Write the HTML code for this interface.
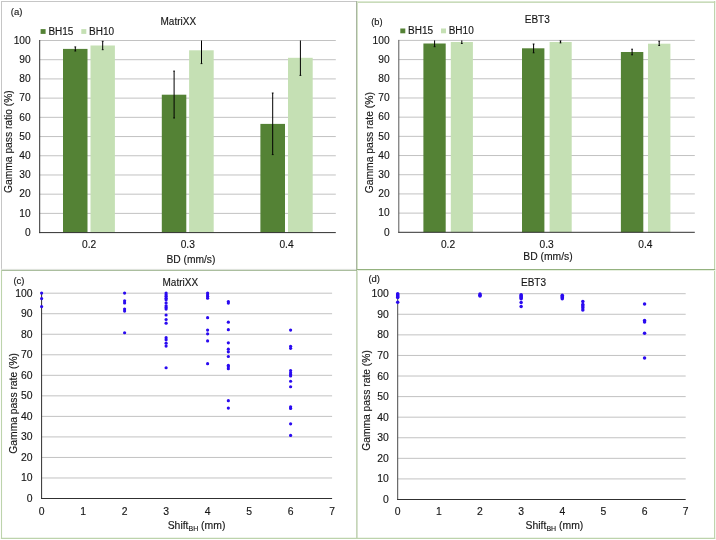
<!DOCTYPE html>
<html lang="en"><head><meta charset="utf-8"><title>Gamma pass rate figure</title>
<style>html,body{margin:0;padding:0;background:#fff;}body{width:716px;height:540px;overflow:hidden;}svg{display:block;}text{font-family:"Liberation Sans", sans-serif;fill:#161616;stroke:#161616;stroke-width:0.14px;}</style></head><body>
<svg width="716" height="540" viewBox="0 0 716 540">
<rect x="0" y="0" width="716" height="540" fill="#ffffff"/>
<line x1="1" x2="357" y1="1.5" y2="1.5" stroke="#c6c6c6" stroke-width="1"/>
<line x1="1.5" x2="1.5" y1="1" y2="270" stroke="#c6c6c6" stroke-width="1"/>
<line x1="1" x2="357" y1="269.3" y2="269.3" stroke="#ededed" stroke-width="1"/>
<line x1="357" x2="715.2" y1="1.5" y2="1.5" stroke="#dce8d2" stroke-width="1"/>
<line x1="357" x2="715.2" y1="2.5" y2="2.5" stroke="#c9dbba" stroke-width="1"/>
<line x1="714.6" x2="714.6" y1="1" y2="539" stroke="#bfd4ad" stroke-width="1.2"/>
<line x1="356.5" x2="356.5" y1="1" y2="270" stroke="#a9b5a1" stroke-width="1"/>
<line x1="357.5" x2="357.5" y1="1" y2="270" stroke="#d5e4c8" stroke-width="1"/>
<line x1="356.9" x2="356.9" y1="270" y2="539" stroke="#a6bf93" stroke-width="1.1"/>
<line x1="1" x2="357" y1="270.3" y2="270.3" stroke="#97ae88" stroke-width="1"/>
<line x1="357" x2="715.2" y1="269.5" y2="269.5" stroke="#94b27f" stroke-width="1"/>
<line x1="357" x2="715.2" y1="270.5" y2="270.5" stroke="#e6efdf" stroke-width="1"/>
<line x1="0.9" x2="715.2" y1="538.4" y2="538.4" stroke="#bdd3ac" stroke-width="1.1"/>
<line x1="1.5" x2="1.5" y1="270" y2="539" stroke="#bdd3ac" stroke-width="1.1"/>
<line x1="39.70" x2="335.80" y1="40.50" y2="40.50" stroke="#C2C2C2" stroke-width="1"/>
<line x1="39.70" x2="335.80" y1="59.71" y2="59.71" stroke="#C2C2C2" stroke-width="1"/>
<line x1="39.70" x2="335.80" y1="78.92" y2="78.92" stroke="#C2C2C2" stroke-width="1"/>
<line x1="39.70" x2="335.80" y1="98.13" y2="98.13" stroke="#C2C2C2" stroke-width="1"/>
<line x1="39.70" x2="335.80" y1="117.34" y2="117.34" stroke="#C2C2C2" stroke-width="1"/>
<line x1="39.70" x2="335.80" y1="136.55" y2="136.55" stroke="#C2C2C2" stroke-width="1"/>
<line x1="39.70" x2="335.80" y1="155.76" y2="155.76" stroke="#C2C2C2" stroke-width="1"/>
<line x1="39.70" x2="335.80" y1="174.97" y2="174.97" stroke="#C2C2C2" stroke-width="1"/>
<line x1="39.70" x2="335.80" y1="194.18" y2="194.18" stroke="#C2C2C2" stroke-width="1"/>
<line x1="39.70" x2="335.80" y1="213.39" y2="213.39" stroke="#C2C2C2" stroke-width="1"/>
<rect x="63.00" y="48.90" width="24.50" height="183.70" fill="#548235"/>
<rect x="90.50" y="45.50" width="24.40" height="187.10" fill="#C5E0B4"/>
<rect x="161.80" y="94.70" width="24.50" height="137.90" fill="#548235"/>
<rect x="189.10" y="50.30" width="24.60" height="182.30" fill="#C5E0B4"/>
<rect x="260.40" y="123.90" width="24.60" height="108.70" fill="#548235"/>
<rect x="288.00" y="57.80" width="24.70" height="174.80" fill="#C5E0B4"/>
<line x1="39.70" x2="39.70" y1="40.00" y2="233.10" stroke="#303030" stroke-width="1"/>
<line x1="39.20" x2="335.80" y1="232.60" y2="232.60" stroke="#303030" stroke-width="1"/>
<line x1="75.30" x2="75.30" y1="46.90" y2="51.00" stroke="#000" stroke-width="1"/>
<line x1="74.40" x2="76.20" y1="46.90" y2="46.90" stroke="#000" stroke-width="0.9"/>
<line x1="74.40" x2="76.20" y1="51.00" y2="51.00" stroke="#000" stroke-width="0.9"/>
<line x1="102.70" x2="102.70" y1="41.30" y2="49.70" stroke="#000" stroke-width="1"/>
<line x1="101.80" x2="103.60" y1="41.30" y2="41.30" stroke="#000" stroke-width="0.9"/>
<line x1="101.80" x2="103.60" y1="49.70" y2="49.70" stroke="#000" stroke-width="0.9"/>
<line x1="174.10" x2="174.10" y1="71.10" y2="118.00" stroke="#000" stroke-width="1"/>
<line x1="173.20" x2="175.00" y1="71.10" y2="71.10" stroke="#000" stroke-width="0.9"/>
<line x1="173.20" x2="175.00" y1="118.00" y2="118.00" stroke="#000" stroke-width="0.9"/>
<line x1="201.50" x2="201.50" y1="40.50" y2="63.60" stroke="#000" stroke-width="1"/>
<line x1="200.60" x2="202.40" y1="63.60" y2="63.60" stroke="#000" stroke-width="0.9"/>
<line x1="272.70" x2="272.70" y1="93.00" y2="154.60" stroke="#000" stroke-width="1"/>
<line x1="271.80" x2="273.60" y1="93.00" y2="93.00" stroke="#000" stroke-width="0.9"/>
<line x1="271.80" x2="273.60" y1="154.60" y2="154.60" stroke="#000" stroke-width="0.9"/>
<line x1="300.40" x2="300.40" y1="40.50" y2="75.40" stroke="#000" stroke-width="1"/>
<line x1="299.50" x2="301.30" y1="75.40" y2="75.40" stroke="#000" stroke-width="0.9"/>
<text x="30.70" y="43.80" font-size="10.2" text-anchor="end">100</text>
<text x="30.70" y="63.01" font-size="10.2" text-anchor="end">90</text>
<text x="30.70" y="82.22" font-size="10.2" text-anchor="end">80</text>
<text x="30.70" y="101.43" font-size="10.2" text-anchor="end">70</text>
<text x="30.70" y="120.64" font-size="10.2" text-anchor="end">60</text>
<text x="30.70" y="139.85" font-size="10.2" text-anchor="end">50</text>
<text x="30.70" y="159.06" font-size="10.2" text-anchor="end">40</text>
<text x="30.70" y="178.27" font-size="10.2" text-anchor="end">30</text>
<text x="30.70" y="197.48" font-size="10.2" text-anchor="end">20</text>
<text x="30.70" y="216.69" font-size="10.2" text-anchor="end">10</text>
<text x="30.70" y="235.90" font-size="10.2" text-anchor="end">0</text>
<text x="89.10" y="247.80" font-size="10.2" text-anchor="middle">0.2</text>
<text x="187.80" y="247.80" font-size="10.2" text-anchor="middle">0.3</text>
<text x="286.50" y="247.80" font-size="10.2" text-anchor="middle">0.4</text>
<text x="190.90" y="263.00" font-size="10.25" text-anchor="middle">BD (mm/s)</text>
<text x="178.30" y="25.00" font-size="10" text-anchor="middle">MatriXX</text>
<rect x="40.60" y="29.10" width="5" height="4.8" fill="#548235"/>
<text x="48.40" y="34.60" font-size="10" text-anchor="start">BH15</text>
<rect x="81.30" y="29.10" width="5" height="4.8" fill="#C5E0B4"/>
<text x="89.00" y="34.60" font-size="10" text-anchor="start">BH10</text>
<text x="10.80" y="14.90" font-size="9.5" text-anchor="start" stroke="none">(a)</text>
<text transform="translate(12.10,141.60) rotate(-90)" font-size="10.27" text-anchor="middle">Gamma pass ratio (%)</text>
<line x1="398.80" x2="694.80" y1="40.40" y2="40.40" stroke="#C2C2C2" stroke-width="1"/>
<line x1="398.80" x2="694.80" y1="59.59" y2="59.59" stroke="#C2C2C2" stroke-width="1"/>
<line x1="398.80" x2="694.80" y1="78.78" y2="78.78" stroke="#C2C2C2" stroke-width="1"/>
<line x1="398.80" x2="694.80" y1="97.97" y2="97.97" stroke="#C2C2C2" stroke-width="1"/>
<line x1="398.80" x2="694.80" y1="117.16" y2="117.16" stroke="#C2C2C2" stroke-width="1"/>
<line x1="398.80" x2="694.80" y1="136.35" y2="136.35" stroke="#C2C2C2" stroke-width="1"/>
<line x1="398.80" x2="694.80" y1="155.54" y2="155.54" stroke="#C2C2C2" stroke-width="1"/>
<line x1="398.80" x2="694.80" y1="174.73" y2="174.73" stroke="#C2C2C2" stroke-width="1"/>
<line x1="398.80" x2="694.80" y1="193.92" y2="193.92" stroke="#C2C2C2" stroke-width="1"/>
<line x1="398.80" x2="694.80" y1="213.11" y2="213.11" stroke="#C2C2C2" stroke-width="1"/>
<rect x="423.40" y="43.50" width="22.30" height="188.80" fill="#548235"/>
<rect x="450.80" y="42.00" width="22.10" height="190.30" fill="#C5E0B4"/>
<rect x="522.00" y="48.30" width="22.40" height="184.00" fill="#548235"/>
<rect x="549.60" y="42.00" width="22.10" height="190.30" fill="#C5E0B4"/>
<rect x="620.90" y="52.00" width="22.40" height="180.30" fill="#548235"/>
<rect x="648.00" y="43.70" width="22.40" height="188.60" fill="#C5E0B4"/>
<line x1="398.80" x2="398.80" y1="39.90" y2="232.80" stroke="#585858" stroke-width="1"/>
<line x1="398.30" x2="694.80" y1="232.30" y2="232.30" stroke="#303030" stroke-width="1"/>
<line x1="434.60" x2="434.60" y1="40.40" y2="46.70" stroke="#000" stroke-width="1"/>
<line x1="433.70" x2="435.50" y1="46.70" y2="46.70" stroke="#000" stroke-width="0.9"/>
<line x1="461.80" x2="461.80" y1="40.40" y2="43.50" stroke="#000" stroke-width="1"/>
<line x1="460.90" x2="462.70" y1="43.50" y2="43.50" stroke="#000" stroke-width="0.9"/>
<line x1="533.60" x2="533.60" y1="44.00" y2="52.80" stroke="#000" stroke-width="1"/>
<line x1="532.70" x2="534.50" y1="44.00" y2="44.00" stroke="#000" stroke-width="0.9"/>
<line x1="532.70" x2="534.50" y1="52.80" y2="52.80" stroke="#000" stroke-width="0.9"/>
<line x1="560.50" x2="560.50" y1="40.90" y2="42.90" stroke="#000" stroke-width="1"/>
<line x1="559.60" x2="561.40" y1="40.90" y2="40.90" stroke="#000" stroke-width="0.9"/>
<line x1="559.60" x2="561.40" y1="42.90" y2="42.90" stroke="#000" stroke-width="0.9"/>
<line x1="632.10" x2="632.10" y1="49.20" y2="54.80" stroke="#000" stroke-width="1"/>
<line x1="631.20" x2="633.00" y1="49.20" y2="49.20" stroke="#000" stroke-width="0.9"/>
<line x1="631.20" x2="633.00" y1="54.80" y2="54.80" stroke="#000" stroke-width="0.9"/>
<line x1="659.20" x2="659.20" y1="41.20" y2="45.50" stroke="#000" stroke-width="1"/>
<line x1="658.30" x2="660.10" y1="41.20" y2="41.20" stroke="#000" stroke-width="0.9"/>
<line x1="658.30" x2="660.10" y1="45.50" y2="45.50" stroke="#000" stroke-width="0.9"/>
<text x="389.60" y="43.70" font-size="10.2" text-anchor="end">100</text>
<text x="389.60" y="62.89" font-size="10.2" text-anchor="end">90</text>
<text x="389.60" y="82.08" font-size="10.2" text-anchor="end">80</text>
<text x="389.60" y="101.27" font-size="10.2" text-anchor="end">70</text>
<text x="389.60" y="120.46" font-size="10.2" text-anchor="end">60</text>
<text x="389.60" y="139.65" font-size="10.2" text-anchor="end">50</text>
<text x="389.60" y="158.84" font-size="10.2" text-anchor="end">40</text>
<text x="389.60" y="178.03" font-size="10.2" text-anchor="end">30</text>
<text x="389.60" y="197.22" font-size="10.2" text-anchor="end">20</text>
<text x="389.60" y="216.41" font-size="10.2" text-anchor="end">10</text>
<text x="389.60" y="235.60" font-size="10.2" text-anchor="end">0</text>
<text x="448.00" y="247.70" font-size="10.2" text-anchor="middle">0.2</text>
<text x="546.70" y="247.70" font-size="10.2" text-anchor="middle">0.3</text>
<text x="645.40" y="247.70" font-size="10.2" text-anchor="middle">0.4</text>
<text x="548.00" y="260.10" font-size="10.35" text-anchor="middle">BD (mm/s)</text>
<text x="537.30" y="23.30" font-size="10" text-anchor="middle">EBT3</text>
<rect x="400.30" y="28.50" width="5" height="4.8" fill="#548235"/>
<text x="408.10" y="34.20" font-size="10" text-anchor="start">BH15</text>
<rect x="441.00" y="28.50" width="5" height="4.8" fill="#C5E0B4"/>
<text x="448.70" y="34.20" font-size="10" text-anchor="start">BH10</text>
<text x="371.20" y="24.90" font-size="9.3" text-anchor="start" stroke="none">(b)</text>
<text transform="translate(373.10,142.70) rotate(-90)" font-size="10.37" text-anchor="middle">Gamma pass rate (%)</text>
<line x1="41.60" x2="332.10" y1="293.20" y2="293.20" stroke="#C2C2C2" stroke-width="1"/>
<line x1="41.60" x2="332.10" y1="313.73" y2="313.73" stroke="#C2C2C2" stroke-width="1"/>
<line x1="41.60" x2="332.10" y1="334.26" y2="334.26" stroke="#C2C2C2" stroke-width="1"/>
<line x1="41.60" x2="332.10" y1="354.79" y2="354.79" stroke="#C2C2C2" stroke-width="1"/>
<line x1="41.60" x2="332.10" y1="375.32" y2="375.32" stroke="#C2C2C2" stroke-width="1"/>
<line x1="41.60" x2="332.10" y1="395.85" y2="395.85" stroke="#C2C2C2" stroke-width="1"/>
<line x1="41.60" x2="332.10" y1="416.38" y2="416.38" stroke="#C2C2C2" stroke-width="1"/>
<line x1="41.60" x2="332.10" y1="436.91" y2="436.91" stroke="#C2C2C2" stroke-width="1"/>
<line x1="41.60" x2="332.10" y1="457.44" y2="457.44" stroke="#C2C2C2" stroke-width="1"/>
<line x1="41.60" x2="332.10" y1="477.97" y2="477.97" stroke="#C2C2C2" stroke-width="1"/>
<line x1="41.60" x2="41.60" y1="292.70" y2="499.00" stroke="#303030" stroke-width="1"/>
<line x1="41.10" x2="332.10" y1="498.50" y2="498.50" stroke="#303030" stroke-width="1"/>
<circle cx="41.60" cy="293.10" r="1.6" fill="#2a0af0"/>
<circle cx="41.60" cy="298.62" r="1.6" fill="#2a0af0"/>
<circle cx="41.60" cy="306.60" r="1.6" fill="#2a0af0"/>
<circle cx="124.60" cy="293.10" r="1.6" fill="#2a0af0"/>
<circle cx="124.60" cy="300.87" r="1.6" fill="#2a0af0"/>
<circle cx="124.60" cy="302.92" r="1.6" fill="#2a0af0"/>
<circle cx="124.60" cy="309.05" r="1.6" fill="#2a0af0"/>
<circle cx="124.60" cy="311.10" r="1.6" fill="#2a0af0"/>
<circle cx="124.60" cy="332.77" r="1.6" fill="#2a0af0"/>
<circle cx="166.10" cy="293.10" r="1.6" fill="#2a0af0"/>
<circle cx="166.10" cy="294.74" r="1.6" fill="#2a0af0"/>
<circle cx="166.10" cy="296.37" r="1.6" fill="#2a0af0"/>
<circle cx="166.10" cy="298.21" r="1.6" fill="#2a0af0"/>
<circle cx="166.10" cy="299.64" r="1.6" fill="#2a0af0"/>
<circle cx="166.10" cy="302.92" r="1.6" fill="#2a0af0"/>
<circle cx="166.10" cy="305.78" r="1.6" fill="#2a0af0"/>
<circle cx="166.10" cy="307.42" r="1.6" fill="#2a0af0"/>
<circle cx="166.10" cy="309.05" r="1.6" fill="#2a0af0"/>
<circle cx="166.10" cy="314.98" r="1.6" fill="#2a0af0"/>
<circle cx="166.10" cy="319.48" r="1.6" fill="#2a0af0"/>
<circle cx="166.10" cy="323.16" r="1.6" fill="#2a0af0"/>
<circle cx="166.10" cy="337.68" r="1.6" fill="#2a0af0"/>
<circle cx="166.10" cy="339.73" r="1.6" fill="#2a0af0"/>
<circle cx="166.10" cy="343.20" r="1.6" fill="#2a0af0"/>
<circle cx="166.10" cy="346.07" r="1.6" fill="#2a0af0"/>
<circle cx="166.10" cy="367.74" r="1.6" fill="#2a0af0"/>
<circle cx="207.60" cy="293.10" r="1.6" fill="#2a0af0"/>
<circle cx="207.60" cy="294.74" r="1.6" fill="#2a0af0"/>
<circle cx="207.60" cy="296.37" r="1.6" fill="#2a0af0"/>
<circle cx="207.60" cy="298.21" r="1.6" fill="#2a0af0"/>
<circle cx="207.60" cy="317.64" r="1.6" fill="#2a0af0"/>
<circle cx="207.60" cy="330.11" r="1.6" fill="#2a0af0"/>
<circle cx="207.60" cy="333.80" r="1.6" fill="#2a0af0"/>
<circle cx="207.60" cy="340.95" r="1.6" fill="#2a0af0"/>
<circle cx="207.60" cy="363.65" r="1.6" fill="#2a0af0"/>
<circle cx="228.35" cy="301.48" r="1.6" fill="#2a0af0"/>
<circle cx="228.35" cy="303.12" r="1.6" fill="#2a0af0"/>
<circle cx="228.35" cy="322.14" r="1.6" fill="#2a0af0"/>
<circle cx="228.35" cy="329.71" r="1.6" fill="#2a0af0"/>
<circle cx="228.35" cy="342.79" r="1.6" fill="#2a0af0"/>
<circle cx="228.35" cy="349.13" r="1.6" fill="#2a0af0"/>
<circle cx="228.35" cy="351.79" r="1.6" fill="#2a0af0"/>
<circle cx="228.35" cy="356.50" r="1.6" fill="#2a0af0"/>
<circle cx="228.35" cy="365.29" r="1.6" fill="#2a0af0"/>
<circle cx="228.35" cy="366.72" r="1.6" fill="#2a0af0"/>
<circle cx="228.35" cy="368.76" r="1.6" fill="#2a0af0"/>
<circle cx="228.35" cy="400.67" r="1.6" fill="#2a0af0"/>
<circle cx="228.35" cy="408.03" r="1.6" fill="#2a0af0"/>
<circle cx="290.60" cy="330.11" r="1.6" fill="#2a0af0"/>
<circle cx="290.60" cy="346.27" r="1.6" fill="#2a0af0"/>
<circle cx="290.60" cy="348.31" r="1.6" fill="#2a0af0"/>
<circle cx="290.60" cy="370.61" r="1.6" fill="#2a0af0"/>
<circle cx="290.60" cy="372.85" r="1.6" fill="#2a0af0"/>
<circle cx="290.60" cy="374.49" r="1.6" fill="#2a0af0"/>
<circle cx="290.60" cy="375.92" r="1.6" fill="#2a0af0"/>
<circle cx="290.60" cy="381.24" r="1.6" fill="#2a0af0"/>
<circle cx="290.60" cy="386.76" r="1.6" fill="#2a0af0"/>
<circle cx="290.60" cy="406.80" r="1.6" fill="#2a0af0"/>
<circle cx="290.60" cy="408.44" r="1.6" fill="#2a0af0"/>
<circle cx="290.60" cy="423.78" r="1.6" fill="#2a0af0"/>
<circle cx="290.60" cy="435.43" r="1.6" fill="#2a0af0"/>
<text x="32.60" y="296.70" font-size="10.4" text-anchor="end">100</text>
<text x="32.60" y="317.23" font-size="10.4" text-anchor="end">90</text>
<text x="32.60" y="337.76" font-size="10.4" text-anchor="end">80</text>
<text x="32.60" y="358.29" font-size="10.4" text-anchor="end">70</text>
<text x="32.60" y="378.82" font-size="10.4" text-anchor="end">60</text>
<text x="32.60" y="399.35" font-size="10.4" text-anchor="end">50</text>
<text x="32.60" y="419.88" font-size="10.4" text-anchor="end">40</text>
<text x="32.60" y="440.41" font-size="10.4" text-anchor="end">30</text>
<text x="32.60" y="460.94" font-size="10.4" text-anchor="end">20</text>
<text x="32.60" y="481.47" font-size="10.4" text-anchor="end">10</text>
<text x="32.60" y="502.00" font-size="10.4" text-anchor="end">0</text>
<text x="41.60" y="515.10" font-size="10.4" text-anchor="middle">0</text>
<text x="83.10" y="515.10" font-size="10.4" text-anchor="middle">1</text>
<text x="124.60" y="515.10" font-size="10.4" text-anchor="middle">2</text>
<text x="166.10" y="515.10" font-size="10.4" text-anchor="middle">3</text>
<text x="207.60" y="515.10" font-size="10.4" text-anchor="middle">4</text>
<text x="249.10" y="515.10" font-size="10.4" text-anchor="middle">5</text>
<text x="290.60" y="515.10" font-size="10.4" text-anchor="middle">6</text>
<text x="332.10" y="515.10" font-size="10.4" text-anchor="middle">7</text>
<text x="167.7" y="528.7" font-size="10.4">Shift<tspan font-size="7" dy="2.7">BH</tspan><tspan dy="-2.7"> (mm)</tspan></text>
<text x="180.30" y="286.40" font-size="10" text-anchor="middle">MatriXX</text>
<text x="13.40" y="283.80" font-size="9.5" text-anchor="start" stroke="none">(c)</text>
<text transform="translate(16.70,403.30) rotate(-90)" font-size="10.3" text-anchor="middle">Gamma pass rate (%)</text>
<line x1="397.70" x2="685.70" y1="293.70" y2="293.70" stroke="#C2C2C2" stroke-width="1"/>
<line x1="397.70" x2="685.70" y1="314.28" y2="314.28" stroke="#C2C2C2" stroke-width="1"/>
<line x1="397.70" x2="685.70" y1="334.86" y2="334.86" stroke="#C2C2C2" stroke-width="1"/>
<line x1="397.70" x2="685.70" y1="355.44" y2="355.44" stroke="#C2C2C2" stroke-width="1"/>
<line x1="397.70" x2="685.70" y1="376.02" y2="376.02" stroke="#C2C2C2" stroke-width="1"/>
<line x1="397.70" x2="685.70" y1="396.60" y2="396.60" stroke="#C2C2C2" stroke-width="1"/>
<line x1="397.70" x2="685.70" y1="417.18" y2="417.18" stroke="#C2C2C2" stroke-width="1"/>
<line x1="397.70" x2="685.70" y1="437.76" y2="437.76" stroke="#C2C2C2" stroke-width="1"/>
<line x1="397.70" x2="685.70" y1="458.34" y2="458.34" stroke="#C2C2C2" stroke-width="1"/>
<line x1="397.70" x2="685.70" y1="478.92" y2="478.92" stroke="#C2C2C2" stroke-width="1"/>
<line x1="397.70" x2="397.70" y1="293.20" y2="500.00" stroke="#4a4a4a" stroke-width="1"/>
<line x1="397.20" x2="685.70" y1="499.50" y2="499.50" stroke="#303030" stroke-width="1"/>
<circle cx="397.70" cy="293.70" r="1.75" fill="#2a0af0"/>
<circle cx="397.70" cy="294.73" r="1.75" fill="#2a0af0"/>
<circle cx="397.70" cy="295.76" r="1.75" fill="#2a0af0"/>
<circle cx="397.70" cy="296.79" r="1.75" fill="#2a0af0"/>
<circle cx="397.70" cy="297.40" r="1.75" fill="#2a0af0"/>
<circle cx="397.70" cy="302.34" r="1.75" fill="#2a0af0"/>
<circle cx="479.99" cy="294.11" r="1.75" fill="#2a0af0"/>
<circle cx="479.99" cy="295.14" r="1.75" fill="#2a0af0"/>
<circle cx="479.99" cy="295.96" r="1.75" fill="#2a0af0"/>
<circle cx="521.13" cy="294.73" r="1.75" fill="#2a0af0"/>
<circle cx="521.13" cy="295.76" r="1.75" fill="#2a0af0"/>
<circle cx="521.13" cy="296.79" r="1.75" fill="#2a0af0"/>
<circle cx="521.13" cy="297.82" r="1.75" fill="#2a0af0"/>
<circle cx="521.13" cy="298.64" r="1.75" fill="#2a0af0"/>
<circle cx="521.13" cy="302.55" r="1.75" fill="#2a0af0"/>
<circle cx="521.13" cy="306.46" r="1.75" fill="#2a0af0"/>
<circle cx="562.27" cy="295.14" r="1.75" fill="#2a0af0"/>
<circle cx="562.27" cy="296.38" r="1.75" fill="#2a0af0"/>
<circle cx="562.27" cy="297.61" r="1.75" fill="#2a0af0"/>
<circle cx="562.27" cy="298.84" r="1.75" fill="#2a0af0"/>
<circle cx="582.84" cy="301.52" r="1.75" fill="#2a0af0"/>
<circle cx="582.84" cy="304.40" r="1.75" fill="#2a0af0"/>
<circle cx="582.84" cy="306.05" r="1.75" fill="#2a0af0"/>
<circle cx="582.84" cy="307.69" r="1.75" fill="#2a0af0"/>
<circle cx="582.84" cy="309.96" r="1.75" fill="#2a0af0"/>
<circle cx="644.56" cy="303.99" r="1.75" fill="#2a0af0"/>
<circle cx="644.56" cy="320.45" r="1.75" fill="#2a0af0"/>
<circle cx="644.56" cy="322.10" r="1.75" fill="#2a0af0"/>
<circle cx="644.56" cy="333.21" r="1.75" fill="#2a0af0"/>
<circle cx="644.56" cy="358.12" r="1.75" fill="#2a0af0"/>
<text x="388.80" y="297.20" font-size="10.4" text-anchor="end">100</text>
<text x="388.80" y="317.78" font-size="10.4" text-anchor="end">90</text>
<text x="388.80" y="338.36" font-size="10.4" text-anchor="end">80</text>
<text x="388.80" y="358.94" font-size="10.4" text-anchor="end">70</text>
<text x="388.80" y="379.52" font-size="10.4" text-anchor="end">60</text>
<text x="388.80" y="400.10" font-size="10.4" text-anchor="end">50</text>
<text x="388.80" y="420.68" font-size="10.4" text-anchor="end">40</text>
<text x="388.80" y="441.26" font-size="10.4" text-anchor="end">30</text>
<text x="388.80" y="461.84" font-size="10.4" text-anchor="end">20</text>
<text x="388.80" y="482.42" font-size="10.4" text-anchor="end">10</text>
<text x="388.80" y="503.00" font-size="10.4" text-anchor="end">0</text>
<text x="397.70" y="514.90" font-size="10.4" text-anchor="middle">0</text>
<text x="438.84" y="514.90" font-size="10.4" text-anchor="middle">1</text>
<text x="479.99" y="514.90" font-size="10.4" text-anchor="middle">2</text>
<text x="521.13" y="514.90" font-size="10.4" text-anchor="middle">3</text>
<text x="562.27" y="514.90" font-size="10.4" text-anchor="middle">4</text>
<text x="603.41" y="514.90" font-size="10.4" text-anchor="middle">5</text>
<text x="644.56" y="514.90" font-size="10.4" text-anchor="middle">6</text>
<text x="685.70" y="514.90" font-size="10.4" text-anchor="middle">7</text>
<text x="525.6" y="528.7" font-size="10.4">Shift<tspan font-size="7" dy="2.7">BH</tspan><tspan dy="-2.7"> (mm)</tspan></text>
<text x="533.50" y="286.00" font-size="10" text-anchor="middle">EBT3</text>
<text x="368.40" y="281.70" font-size="9.5" text-anchor="start" stroke="none">(d)</text>
<text transform="translate(370.00,400.50) rotate(-90)" font-size="10.3" text-anchor="middle">Gamma pass rate (%)</text>
</svg></body></html>
